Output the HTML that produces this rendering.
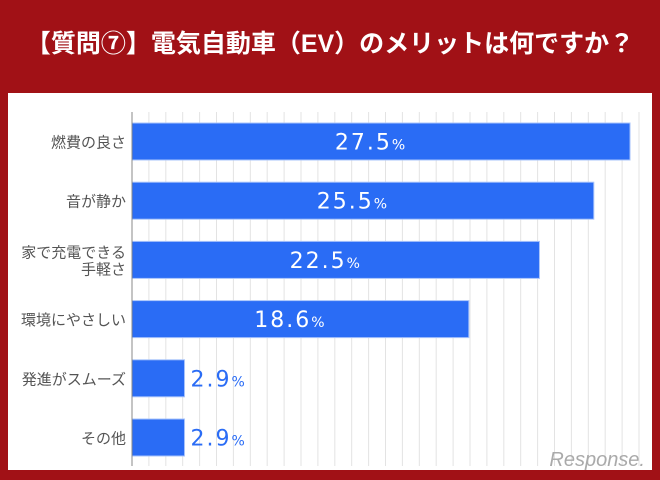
<!DOCTYPE html>
<html><head><meta charset="utf-8"><style>
body{margin:0;width:660px;height:480px;background:#a11116;position:relative;overflow:hidden;font-family:"Liberation Sans","Noto Sans CJK JP",sans-serif}
#title{position:absolute;left:0;top:0;width:660px;height:92px;line-height:88px;text-align:center;color:#fff;font-size:25px;font-weight:bold}
#panel{position:absolute;left:8px;top:93px;width:644px;height:377px;background:#fff}
svg{position:absolute;left:0;top:0}
</style></head><body>
<div id="title">【質問⑦】電気自動車（EV）のメリットは何ですか？</div>
<div id="panel"></div>
<svg id="chart" width="660" height="480"></svg>
<script>
const categories=[["燃費の良さ"],["音が静か"],["家で充電できる","手軽さ"],["環境にやさしい"],["発進がスムーズ"],["その他"]];
const values=[27.5,25.5,22.5,18.6,2.9,2.9];
const x0=132,scale=18.11,rowTop=123,rowStep=59.2,barH=37;
const X=v=>x0+v*scale;
const svg=document.getElementById('chart');
const NS='http://www.w3.org/2000/svg';
function mk(t,a){const e=document.createElementNS(NS,t);for(const k in a)e.setAttribute(k,a[k]);svg.appendChild(e);return e;}
for(let gx=x0+16.9;gx<645;gx+=16.9){const l=mk('line',{x1:gx,x2:gx,y1:112,y2:466,stroke:'#e3e3e3','stroke-width':1});

}
values.forEach((v,i)=>{
 const y=rowTop+i*rowStep;
 const r=mk('rect',{x:x0,y:y,width:X(v)-x0,height:barH,fill:'#2a6cf5',stroke:'#a9c4fb','stroke-width':1});
 
 
 const inside=(X(v)-x0)>100;
 const t=mk('text',{x:inside?(x0+X(v))/2-10:X(v)+6,y:y+barH/2+8,'font-size':22,'font-family':'DejaVu Sans, sans-serif',fill:inside?'#fff':'#2a6cf5','text-anchor':inside?'middle':'start','letter-spacing':'2'});
 t.innerHTML=v.toFixed(1)+'<tspan font-size="14">%</tspan>';
 
 
 const lines=categories[i];
 lines.forEach((s,j)=>{
  const c=mk('text',{x:126,y:y+barH/2+6+(j-(lines.length-1)/2)*17,'font-size':15,fill:'#555','text-anchor':'end'});
  c.textContent=s;
  
  
 });
});
const ax=mk('line',{x1:x0,x2:x0,y1:112,y2:466,stroke:'#888','stroke-width':1});


const w=mk('text',{x:645,y:466,'font-size':20,fill:'#aaa','text-anchor':'end','font-style':'italic'});
w.textContent='Response.';


</script>
</body></html>
